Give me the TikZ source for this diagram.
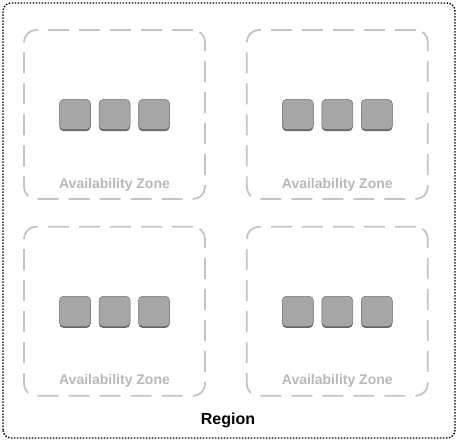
\documentclass[tikz,border=0pt]{standalone}
\usepackage{fontspec}
\setmainfont{Liberation Sans}
\usepackage{tikz}
\usetikzlibrary{positioning,shadows}
\definecolor{zonegray}{RGB}{196,196,196}
\definecolor{labelgray}{RGB}{184,184,184}
\definecolor{instfill}{RGB}{166,166,166}
\definecolor{instline}{RGB}{118,118,118}

\begin{document}
\begin{tikzpicture}[font=\bfseries,node distance=26pt and 40pt,
 region/.style={draw=black,line width=1.4pt,dash pattern=on 1.5pt off 1.5pt,rounded corners=8pt},
 zone/.style={draw=zonegray,line width=1.8pt,dash pattern=on 21pt off 10pt,rounded corners=12pt,minimum width=181pt,minimum height=169pt,inner sep=0pt},
 inst/.style={draw=instline,line width=.5pt,fill=instfill,rounded corners=4pt,minimum width=31pt,minimum height=30pt,inner sep=0pt,
   drop shadow={shadow xshift=0pt,shadow yshift=-1.6pt,fill=black!60,opacity=1}},
 zonelabel/.style={text=labelgray,font=\fontsize{14}{16}\selectfont\bfseries,inner sep=0pt}]
\useasboundingbox (0,0) rectangle (460pt,441pt);
\draw[region] (3pt,3pt) rectangle (455pt,438pt);
\node[zone] (az1) at (114.5pt,326.5pt) {};
\node[zone,right=of az1] (az2) {};
\node[zone,below=of az1] (az3) {};
\node[zone,below=of az2] (az4) {};
\foreach \z in {az1,az2,az3,az4}{
  \node[inst] (\z-b) at (\z.center) {};
  \node[inst,left=8pt of \z-b] (\z-a) {};
  \node[inst,right=8pt of \z-b] (\z-c) {};
  \node[zonelabel] (\z-lbl) at ([yshift=-70pt]\z.center) {Availability Zone};
}
\node[font=\fontsize{16}{18}\selectfont\bfseries,inner sep=0pt] (regionlbl) at (228pt,21pt) {Region};
\end{tikzpicture}
\end{document}
